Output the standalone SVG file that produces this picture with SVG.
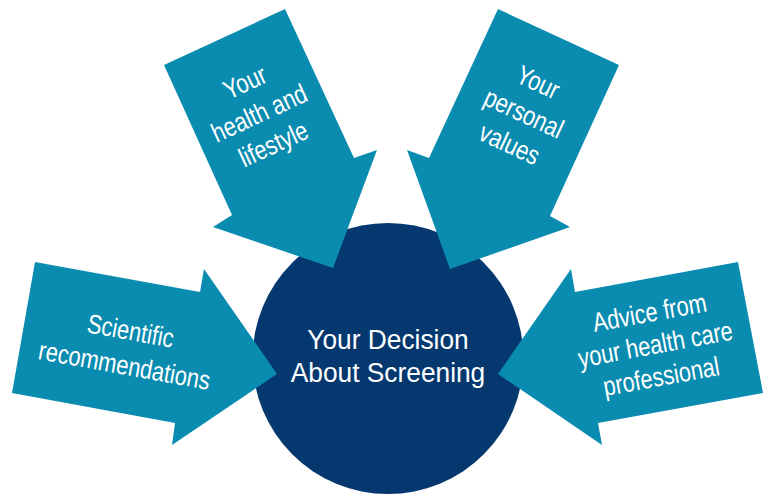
<svg xmlns="http://www.w3.org/2000/svg" width="768" height="496" viewBox="0 0 768 496">
<style>
.arrow{fill:#0a8cb0;}
.hub{fill:#05386f;}
.lbl{font-family:"Liberation Sans",Arial,sans-serif;font-size:27px;fill:#ffffff;text-anchor:middle;}
.hubtxt{font-family:"Liberation Sans",Arial,sans-serif;font-size:28px;fill:#ffffff;text-anchor:middle;}
</style>
<rect width="768" height="496" fill="#ffffff"/>
<g id="hub">
<circle class="hub" cx="388" cy="358.5" r="135.5"/>
</g>
<g id="connectors">
<polygon id="arrow-left" class="arrow" points="35,262 200,292 204,269 277,374 172,445 175,423 12,393"/>
<polygon id="arrow-topleft" class="arrow" points="164,65 285,9 354,158 377,150 333,268 213,227 232,215"/>
<polygon id="arrow-topright" class="arrow" points="498,9 619,65 550,216 570,227 450,269 407,150 429,158"/>
<polygon id="arrow-right" class="arrow" points="738,262 763,393 598,423 602,445 498,374 571,269 575,292"/>
</g>
<g id="hub-label">
<g transform="translate(388,0) scale(0.94,1)">
<text class="hubtxt"><tspan x="0" y="349">Your Decision</tspan><tspan x="0" y="382">About Screening</tspan></text>
</g>
</g>
<g id="node-scientific">
<g transform="translate(129,340) rotate(10.3) scale(0.81,1)">
<text class="lbl"><tspan x="0" y="0">Scientific</tspan><tspan x="0" y="35">recommendations</tspan></text>
</g>
</g>
<g id="node-health">
<g transform="translate(263,121.5) rotate(-24.8) scale(0.81,1)">
<text class="lbl"><tspan x="0" y="-34">Your</tspan><tspan x="0" y="0">health and</tspan><tspan x="0" y="34">lifestyle</tspan></text>
</g>
</g>
<g id="node-values">
<g transform="translate(520,121.5) rotate(24.8) scale(0.81,1)">
<text class="lbl"><tspan x="0" y="-34">Your</tspan><tspan x="0" y="0">personal</tspan><tspan x="0" y="34">values</tspan></text>
</g>
</g>
<g id="node-advice">
<g transform="translate(657,353.5) rotate(-10.4) scale(0.81,1)">
<text class="lbl"><tspan x="0" y="-32.5">Advice from</tspan><tspan x="0" y="0">your health care</tspan><tspan x="0" y="32.5">professional</tspan></text>
</g>
</g>
</svg>
